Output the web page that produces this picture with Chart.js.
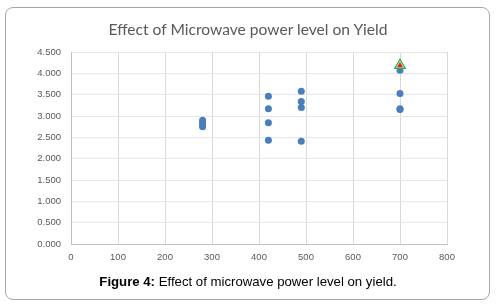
<!DOCTYPE html>
<html>
<head>
<meta charset="utf-8">
<script src="https://cdn.jsdelivr.net/npm/chart.js@4"></script>
<style>
  html, body { margin: 0; padding: 0; background: #fff; }
  #wrap { position: relative; width: 496px; height: 308px; }
  #frame {
    position: absolute; left: 5px; top: 7px; width: 483px; height: 291px;
    border: 1px solid #a6a6a6; border-radius: 8px;
  }
  #title {
    position: absolute; left: 0; width: 496px; top: 20px; text-align: center;
    font-family: Lato, "Open Sans", sans-serif; font-size: 15.6px; color: #595959;
    white-space: nowrap;
  }
  #caption {
    position: absolute; left: 0; width: 496px; top: 274px; text-align: center;
    font-family: "Liberation Sans", Arial, sans-serif; font-size: 13.2px; color: #000;
    white-space: nowrap;
  }
  canvas { position: absolute; left: 0; top: 0; }
</style>
</head>
<body>
<div id="wrap">
  <div id="frame"></div>
  <canvas id="chart" width="496" height="308"></canvas>
  <div id="title">Effect of Microwave power level on Yield</div>
  <div id="caption"><b>Figure 4:</b> Effect of microwave power level on yield.</div>
</div>
<script>
// observed runs
const POWER = [280, 280, 280, 280, 420, 420, 420, 420, 490, 490, 490, 490, 700, 700, 700, 700];
const YIELD = [2.90, 2.85, 2.79, 2.75, 3.46, 3.17, 2.84, 2.43, 3.58, 3.34, 3.20, 2.41, 4.07, 3.53, 3.17, 3.15];

// optimum marker
const OPT_POWER = [700];
const OPT_YIELD = [4.19];

const X_MIN = 0, X_MAX = 800, X_STEP = 100;
const Y_MIN = 0, Y_MAX = 4.5, Y_STEP = 0.5;

const pts = (xs, ys) => xs.map((x, i) => ({ x: x, y: ys[i] }));
const tickFont = { family: '"Liberation Sans", Arial, sans-serif', size: 9.5 };

new Chart(document.getElementById('chart'), {
  type: 'scatter',
  data: {
    datasets: [
      {
        label: 'Optimum',
        data: pts(OPT_POWER, OPT_YIELD),
        pointStyle: 'triangle',
        pointRadius: 3.5,
        backgroundColor: '#ff1a1a',
        borderColor: '#ff1a1a',
        borderWidth: 0,
        order: 0
      },
      {
        label: 'Optimum outline',
        data: pts(OPT_POWER, OPT_YIELD),
        pointStyle: 'triangle',
        pointRadius: 6,
        backgroundColor: 'rgba(255,255,255,0.6)',
        borderColor: '#22b14c',
        borderWidth: 1.3,
        order: 1
      },
      {
        label: 'Yield',
        data: pts(POWER, YIELD),
        pointRadius: 3.5,
        backgroundColor: '#4a7ebb',
        borderColor: '#4a7ebb',
        borderWidth: 0,
        order: 2
      }
    ]
  },
  options: {
    responsive: false,
    animation: false,
    layout: { padding: { left: 10, top: 52, right: 49, bottom: 0 } },
    plugins: {
      legend: { display: false },
      title: { display: false },
      tooltip: { enabled: false }
    },
    scales: {
      x: {
        type: 'linear',
        min: X_MIN, max: X_MAX,
        afterFit: s => { s.height = 64; },
        border: { color: '#bfbfbf' },
        grid: { color: '#d9d9d9', drawTicks: false },
        ticks: { stepSize: X_STEP, padding: 8, color: '#595959', font: tickFont, maxRotation: 0 }
      },
      y: {
        min: Y_MIN, max: Y_MAX,
        afterFit: s => { s.width = 61; },
        border: { color: '#bfbfbf' },
        grid: { color: '#e6e6e6', drawTicks: false },
        ticks: {
          stepSize: Y_STEP, padding: 10, color: '#595959', font: tickFont,
          callback: v => v.toFixed(3)
        }
      }
    }
  }
});
</script>
</body>
</html>
